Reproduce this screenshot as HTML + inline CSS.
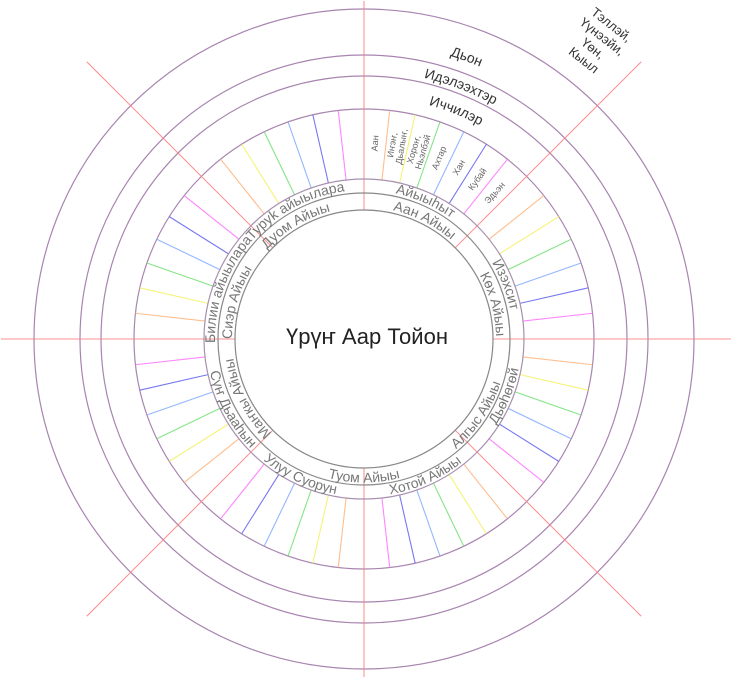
<!DOCTYPE html>
<html><head><meta charset="utf-8">
<style>
html,body{margin:0;padding:0;background:#fff;overflow:hidden;width:732px;height:678px;}
svg{display:block;overflow:hidden;font-family:"Liberation Sans","DejaVu Sans",sans-serif;}
</style></head>
<body>
<svg id="chart" width="732" height="678" viewBox="0 0 732 678" xmlns="http://www.w3.org/2000/svg">
<defs id="defs"></defs>
<g id="g"></g>
</svg>
<script>
const ringRadii = [330, 284, 263, 230];
const innerRadii = [160, 146, 129];
const spokeCount = 56;
const spokeColors = ['#ff8080','#ffb27a','#f5f060','#70e070','#80aaff','#6060f0','#ff70ff'];
const outerLabels = ['Дьон','Идэлээхтэр','Иччилэр'];
const outerLabelAngles = [20, 21, 22];
const outerLabelRadii = [296, 268, 243];
const ringLabels = ['Айыыһыт','Изэхсит','Дьөһөгөй','Хотой Айыы','Улуу Суорун','Сүҥ Дьааһын','Билии айыылара','Туруk айыылара'];
const ringLabelAngles = [24, 69, 112, 156, 205, 242, 290, 332];
const ringLabelDir = ['cw','cw','ccw','ccw','ccw','ccw','cw','cw'];
const innerLabels = ['Аан Айыы','Көх Айыы','Алгыс Айыы','Туом Айыы','Маҥкы Айыы','Сиэр Айыы','Дуом Айыы'];
const innerLabelAngles = [27, 75, 124, 180, 243, 286, 329];
const innerLabelDir = ['cw','cw','ccw','ccw','cw','cw','cw'];
const segLabels = [['Аан'],['Иҥэҥ,','Дьалыҥ,'],['Хороҥ,','Ньэлбэй'],['Ахтар'],['Хан'],['Кубай'],['Эдьэн']];

const cx = 364, cy = 339, W = 732, H = 678;
const NS = 'http://www.w3.org/2000/svg';
const g = document.getElementById('g');
const defs = document.getElementById('defs');
function pt(a, r){const t=a*Math.PI/180;return [cx+r*Math.sin(t), cy-r*Math.cos(t)];}
function edgeR(a){
  const t=a*Math.PI/180, dx=Math.sin(t), dy=-Math.cos(t);
  let r=1e9;
  if(dx>1e-6) r=Math.min(r,(W-cx)/dx); if(dx<-1e-6) r=Math.min(r,-cx/dx);
  if(dy>1e-6) r=Math.min(r,(H-cy)/dy); if(dy<-1e-6) r=Math.min(r,-cy/dy);
  return Math.min(r-1, 392);
}
function mk(tag, attrs, parent){const e=document.createElementNS(NS,tag);for(const k in attrs)e.setAttribute(k,attrs[k]);(parent||g).appendChild(e);return e;}

ringRadii.forEach((r,i)=>{
  const c = mk('circle',{cx:cx,cy:cy,r:r,fill:'none',stroke:'#a884b0','stroke-width':1.2});
  
  
});
for(let i=0;i<spokeCount;i++){
  const a = i*360/spokeCount;
  const col = spokeColors[i%7];
  let p1, p2;
  if(i%7===0){ p1=pt(a,129); p2=pt(a,edgeR(a)); }
  else { p1=pt(a,160); p2=pt(a,230); }
  const l = mk('line',{x1:p1[0],y1:p1[1],x2:p2[0],y2:p2[1],stroke:col,'stroke-width':1.1,opacity:0.85});
  
  
}
innerRadii.forEach((r,i)=>{
  const c = mk('circle',{cx:cx,cy:cy,r:r,fill:i===2?'#fff':'none',stroke:i===0?'#a890b0':'#888','stroke-width':1.2});
  
  
});
let pid=0;
function arcText(txt, a, r, dir, size, color, name){
  const id='p'+(pid++);
  let s,e,d;
  if(dir==='cw'){ s=pt(a-90,r); e=pt(a+90,r); d=`M${s[0]},${s[1]} A${r},${r} 0 0 1 ${e[0]},${e[1]}`; }
  else { s=pt(a+90,r); e=pt(a-90,r); d=`M${s[0]},${s[1]} A${r},${r} 0 0 0 ${e[0]},${e[1]}`; }
  mk('path',{id:id,d:d,fill:'none'},defs);
  const t = mk('text',{'font-size':size,fill:color,'text-anchor':'middle'});
  
  
  const tp = mk('textPath',{href:'#'+id,startOffset:'50%'},t);
  tp.textContent = txt;
}
outerLabels.forEach((s,i)=>arcText(s, outerLabelAngles[i], outerLabelRadii[i], 'cw', 14, '#333', 'outer-label'));
ringLabels.forEach((s,i)=>arcText(s, ringLabelAngles[i], ringLabelDir[i]==='cw'?149:157.5, ringLabelDir[i], 14, '#777', 'ring-label'));
innerLabels.forEach((s,i)=>arcText(s, innerLabelAngles[i], innerLabelDir[i]==='cw'?132:143.5, innerLabelDir[i], 14, '#777', 'inner-label'));
segLabels.forEach((lines,i)=>{
  const a = (i+0.5)*360/spokeCount;
  const p = pt(a,196);
  const t = mk('text',{'font-size':9,fill:'#666','text-anchor':'middle',transform:`translate(${p[0]},${p[1]}) rotate(${a-90})`});
  
  
  lines.forEach((ln,j)=>{
    const ts = mk('tspan',{x:0,y:(j-(lines.length-1)/2)*9.5+3},t);
    ts.textContent = ln;
  });
});
const ct = mk('text',{x:cx+3,y:cy+5,'font-size':22,fill:'#222','text-anchor':'middle'});


ct.textContent = 'Үрүҥ Аар Тойон';
const cl = mk('text',{'font-size':13,fill:'#333','text-anchor':'middle',transform:'translate(598,42) rotate(38)'});


['Тэллэй,','Үүнээйи,','Үөн,','Кыыл'].forEach((ln,j)=>{
  const ts = mk('tspan',{x:0,y:(j-1.5)*15+5},cl);
  ts.textContent = ln;
});
</script>
</body></html>
